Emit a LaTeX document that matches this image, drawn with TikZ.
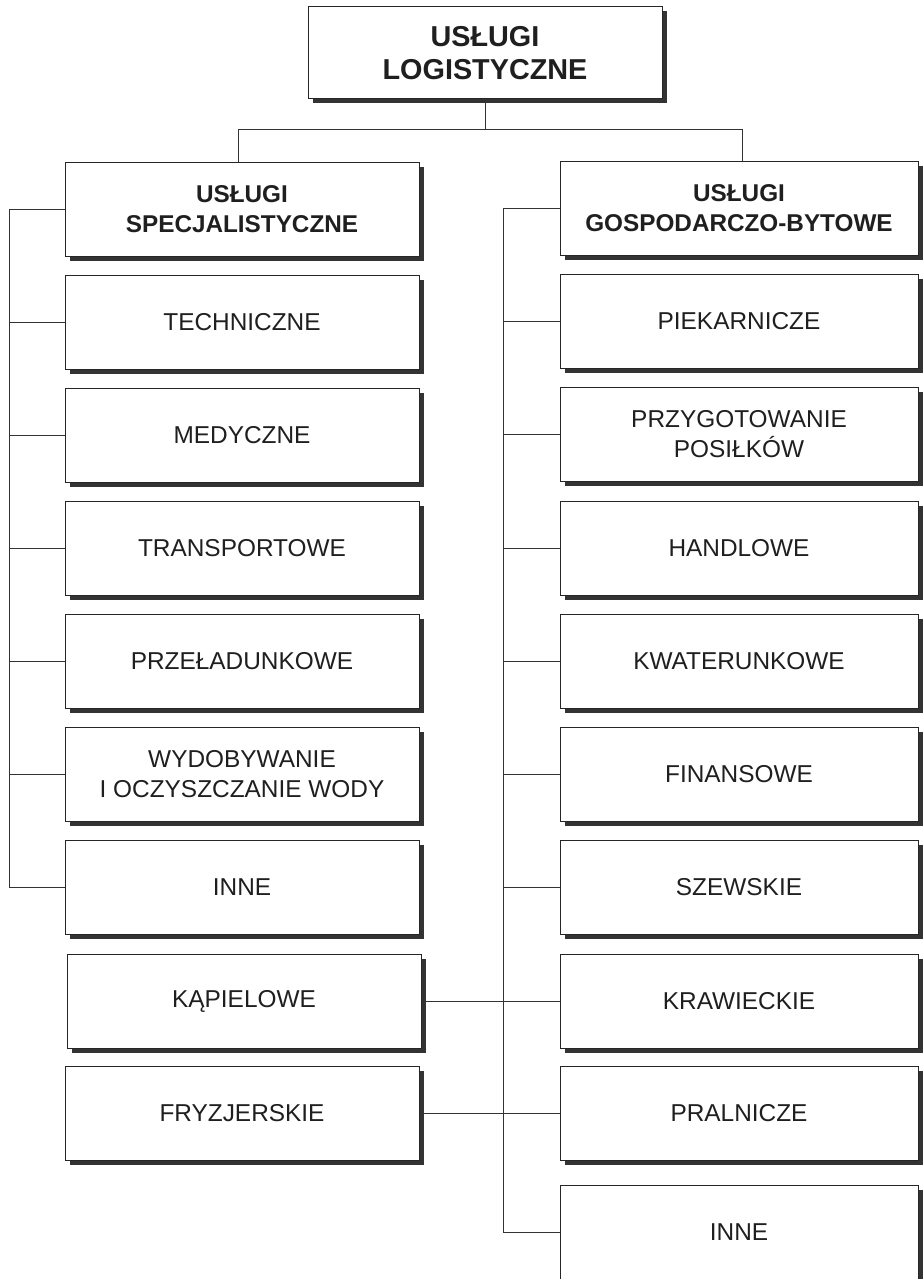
\documentclass[tikz,border=0pt]{standalone}
\usepackage{fontspec}
\setmainfont{Liberation Sans}
\usetikzlibrary{shadows}
\begin{document}
\begin{tikzpicture}[x=1pt,y=-1pt,
  box/.style={draw=black!85, line width=1pt, fill=white, align=center,
    text=black!88, inner sep=2pt,
    drop shadow={shadow xshift=4.5pt, shadow yshift=-4.5pt, fill=black!80, opacity=1},
    font=\fontsize{24.4}{30}\selectfont},
  lbox/.style={box, minimum width=354pt, minimum height=94pt},
  rbox/.style={box, minimum width=358pt, minimum height=94pt},
  hdr/.style={font=\fontsize{24.3}{30}\selectfont\bfseries},
  link/.style={draw=black!80, line width=1pt}]
\useasboundingbox[fill=white] (0,0) rectangle (922,1279);
% top
\node[box, minimum width=354pt, minimum height=92pt, font=\fontsize{28.8}{33}\selectfont\bfseries] (top) at (485,53) {USŁUGI\\LOGISTYCZNE};
% left column
\node[lbox,hdr] (ls) at (242,209) {USŁUGI\\SPECJALISTYCZNE};
\node[lbox] (l1) at (242,322) {TECHNICZNE};
\node[lbox] (l2) at (242,435) {MEDYCZNE};
\node[lbox] (l3) at (242,548) {TRANSPORTOWE};
\node[lbox] (l4) at (242,661) {PRZEŁADUNKOWE};
\node[lbox] (l5) at (242,774) {WYDOBYWANIE\\I OCZYSZCZANIE WODY};
\node[lbox] (l6) at (242,887) {INNE};
\node[lbox] (l7) at (244,1001) {KĄPIELOWE};
\node[lbox] (l8) at (242,1113) {FRYZJERSKIE};
% right column
\node[rbox,hdr] (rs) at (739,208) {USŁUGI\\GOSPODARCZO-BYTOWE};
\node[rbox] (r1) at (739,321) {PIEKARNICZE};
\node[rbox] (r2) at (739,434) {PRZYGOTOWANIE\\POSIŁKÓW};
\node[rbox] (r3) at (739,548) {HANDLOWE};
\node[rbox] (r4) at (739,661) {KWATERUNKOWE};
\node[rbox] (r5) at (739,774) {FINANSOWE};
\node[rbox] (r6) at (739,887) {SZEWSKIE};
\node[rbox] (r7) at (739,1001) {KRAWIECKIE};
\node[rbox] (r8) at (739,1113) {PRALNICZE};
\node[rbox] (r9) at (739,1232) {INNE};
% junction coordinates
\coordinate (jl) at (238,130);
\coordinate (jr) at (742,130);
\coordinate (tl) at (9,0);
\coordinate (tr) at (503,0);
\draw[link] (top.south) -- (top.south |- jl);
\draw[link] (jl |- ls.north) -- (jl) -- (jr) -- (jr |- rs.north);
% left trunk
\draw[link] (tl |- ls.west) -- (tl |- l6.west);
\foreach \n in {ls,l1,l2,l3,l4,l5,l6} {\draw[link] (tl |- \n.west) -- (\n.west);}
% right trunk
\draw[link] (tr |- rs.west) -- (tr |- r9.west);
\foreach \n in {rs,r1,r2,r3,r4,r5,r6,r7,r8,r9} {\draw[link] (tr |- \n.west) -- (\n.west);}
% cross links
\draw[link] (l7.east) -- (r7.west);
\draw[link] (l8.east) -- (r8.west);
\end{tikzpicture}
\end{document}
